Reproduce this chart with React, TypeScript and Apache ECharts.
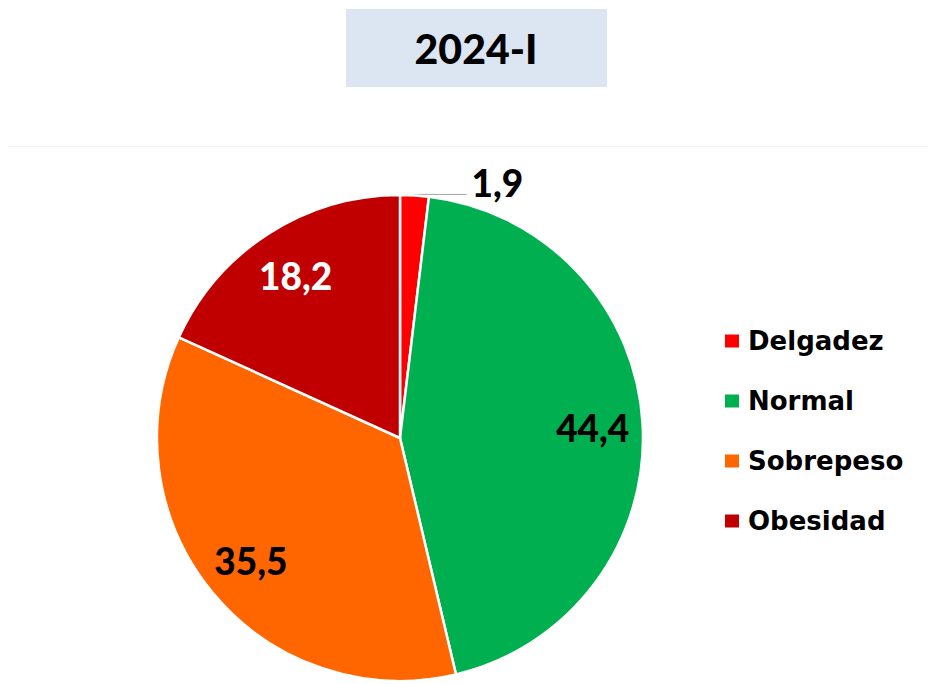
import React, { useEffect, useRef } from "react";
import * as echarts from "echarts";

const title = "2024-I";
const categories = ["Delgadez", "Normal", "Sobrepeso", "Obesidad"];
const values = [1.9, 44.4, 35.5, 18.2];
const colors = ["#ff0000", "#00b050", "#ff6600", "#c00000"];
const labelColors = ["#000000", "#000000", "#000000", "#ffffff"];

const fmt = (v: number) => String(v).replace(".", ",");

export default function App() {
  const ref = useRef<HTMLDivElement>(null);
  useEffect(() => {
    document.body.style.margin = "0";
    const chart = echarts.init(ref.current!, null, { renderer: "svg" });
    const numFont = { fontFamily: "Lato", fontWeight: 900, fontSize: 37 };
    const mainData = categories.map((name, i) => ({
      name,
      value: values[i],
      itemStyle: { color: colors[i] },
      label:
        i === 0
          ? {
              show: true,
              position: "outside" as const,
              formatter: fmt(values[i]) + "\n ",
              lineHeight: 24,
              color: labelColors[i],
              ...numFont,
            }
          : { show: false },
      labelLine:
        i === 0
          ? { show: true, length: 1, length2: 52, lineStyle: { color: "#a6a6a6", width: 1 } }
          : { show: false },
    }));
    const overlayData = categories.map((name, i) => ({
      name,
      value: values[i],
      label: {
        show: i !== 0,
        formatter: fmt(values[i]),
        color: labelColors[i],
        ...numFont,
      },
    }));
    chart.setOption({
      animation: false,
      legend: {
        orient: "vertical",
        left: 718,
        top: 321,
        itemWidth: 16,
        itemHeight: 15,
        itemGap: 30,
        icon: "rect",
        selectedMode: false,
        data: categories.map((name, i) => ({ name, itemStyle: { color: colors[i] } })),
        textStyle: {
          fontFamily: "DejaVu Sans",
          fontWeight: "bold",
          fontSize: 26,
          color: "#000000",
          lineHeight: 30,
          padding: [0, 0, 0, 3],
        },
      },
      graphic: [
        {
          type: "line",
          shape: { x1: 8, y1: 146.5, x2: 928, y2: 146.5 },
          style: { stroke: "#f3f3f3", lineWidth: 1 },
          silent: true,
        },
        {
          type: "rect",
          shape: { x: 346, y: 9, width: 261, height: 78 },
          style: { fill: "#dce6f2" },
          silent: true,
        },
        {
          type: "text",
          x: 476,
          y: 48,
          style: {
            text: title,
            fontFamily: "Lato",
            fontWeight: 900,
            fontSize: 41,
            fill: "#000000",
            textAlign: "center",
            textVerticalAlign: "middle",
          },
          silent: true,
        },
      ],
      series: [
        {
          type: "pie",
          center: [400, 438],
          radius: [0, 243],
          startAngle: 90,
          clockwise: true,
          avoidLabelOverlap: false,
          emphasis: { disabled: true },
          itemStyle: { borderColor: "#ffffff", borderWidth: 2.5 },
          label: { alignTo: "none" },
          data: mainData,
        },
        {
          type: "pie",
          center: [400, 438],
          radius: [137, 243],
          startAngle: 90,
          clockwise: true,
          silent: true,
          avoidLabelOverlap: false,
          emphasis: { disabled: true },
          itemStyle: { color: "rgba(0,0,0,0)", borderWidth: 0 },
          label: { position: "inside" },
          labelLine: { show: false },
          data: overlayData,
        },
      ],
    });
    return () => chart.dispose();
  }, []);
  return <div ref={ref} style={{ width: 928, height: 684 }} />;
}
